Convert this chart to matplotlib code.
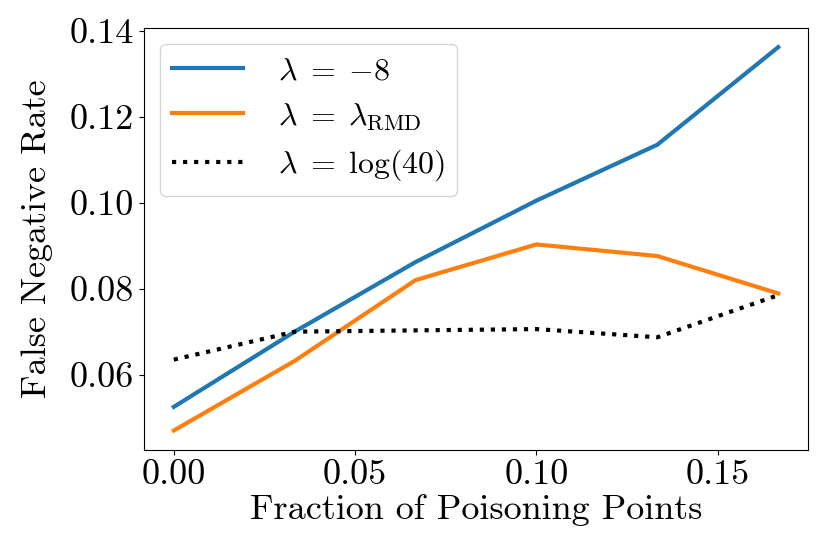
import matplotlib
matplotlib.use("Agg")
import matplotlib.pyplot as plt

plt.rcParams['font.family'] = 'serif'
plt.rcParams['font.serif'] = ['cmr10']
plt.rcParams['mathtext.fontset'] = 'cm'
plt.rcParams['axes.unicode_minus'] = False
plt.rcParams['axes.formatter.use_mathtext'] = True

x = [0, 1/30, 2/30, 3/30, 4/30, 5/30]
fnr_neg8 = [0.0525, 0.0700, 0.0862, 0.1005, 0.1135, 0.1362]
fnr_rmd = [0.0470, 0.0632, 0.0820, 0.0903, 0.0876, 0.0789]
fnr_log40 = [0.0635, 0.0700, 0.0703, 0.0706, 0.0687, 0.0785]
labels = [r'$\lambda\;=\;{-}8$', r'$\lambda\;=\;\lambda_{\rm RMD}$', r'$\lambda\;=\;\log(40)$']
xticks = [0.00, 0.05, 0.10, 0.15]
yticks = [0.06, 0.08, 0.10, 0.12, 0.14]

fig = plt.figure(figsize=(8.3, 5.6), dpi=100)
ax = fig.add_axes([0.173, 0.197, 0.801, 0.753])
ax.plot(x, fnr_neg8, color='#1f77b4', lw=3, label=labels[0])
ax.plot(x, fnr_rmd, color='#ff7f0e', lw=3, label=labels[1])
ax.plot(x, fnr_log40, color='black', lw=3, ls=':', label=labels[2])
ax.set_xticks(xticks)
ax.set_xticklabels(['%.2f' % v for v in xticks])
ax.set_yticks(yticks)
ax.set_yticklabels(['%.2f' % v for v in yticks])
ax.tick_params(labelsize=26)
ax.set_xlabel('Fraction of Poisoning Points', fontsize=26, labelpad=2)
ax.set_ylabel('False Negative Rate', fontsize=26, labelpad=12)
ax.legend(fontsize=23, loc='upper left', handlelength=2.2, handletextpad=1.1)
fig.savefig('out.png', dpi=100)
